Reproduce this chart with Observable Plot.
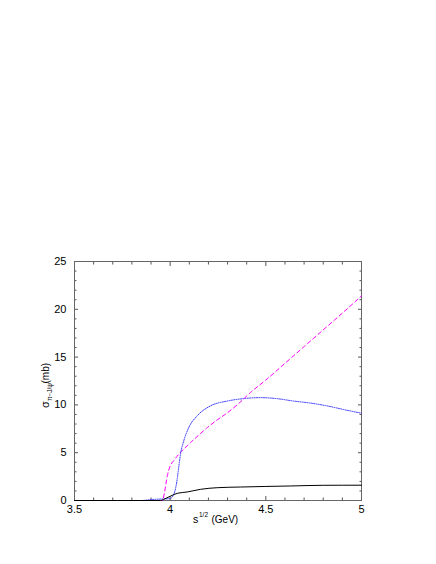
<!DOCTYPE html>
<html><head><meta charset="utf-8">
<script src="https://cdn.jsdelivr.net/npm/d3@7"></script>
<script src="https://cdn.jsdelivr.net/npm/@observablehq/plot@0.6"></script>
<style>body{margin:0;background:#fff}</style>
</head><body><div id="chart"></div>
<script>
// Magenta dashed curve
const magentaX = [3.5, 3.96, 3.97, 3.985, 4.0, 4.02, 4.045, 4.075, 4.106, 4.15, 4.194, 4.24, 4.289, 4.35, 4.42, 4.5, 4.6, 4.7, 4.8, 4.9, 5.0];
const magentaY = [0, 0, 0.8, 2.57, 3.6, 4.2, 4.84, 5.45, 6.05, 6.85, 7.62, 8.35, 9.03, 10.0, 11.3, 12.6, 14.35, 16.1, 17.85, 19.6, 21.4];
// Blue dotted curve
const blueX = [3.5, 3.85, 3.9, 3.95, 4.0, 4.015, 4.025, 4.035, 4.045, 4.054, 4.071, 4.097, 4.141, 4.211, 4.298, 4.38, 4.472, 4.56, 4.646, 4.73, 4.82, 4.91, 5.0];
const blueY = [0, 0, 0.1, 0.15, 0.2, 0.5, 1.0, 2.0, 3.5, 4.84, 6.23, 7.62, 8.85, 9.9, 10.4, 10.65, 10.76, 10.65, 10.4, 10.2, 9.9, 9.5, 9.13];
// Black solid curve
const blackX = [3.5, 3.95, 3.964, 3.98, 4.003, 4.037, 4.089, 4.159, 4.246, 4.368, 4.5, 4.63, 4.8, 5.0];
const blackY = [0, 0, 0.1, 0.25, 0.47, 0.75, 0.89, 1.17, 1.34, 1.41, 1.47, 1.52, 1.59, 1.6];

const xMajorTicks = [3.5, 4, 4.5, 5];
const xMinorTicks = [3.6, 3.7, 3.8, 3.9, 4.1, 4.2, 4.3, 4.4, 4.6, 4.7, 4.8, 4.9];
const yMajorTicks = [0, 5, 10, 15, 20, 25];
const yMinorTicks = [1, 2, 3, 4, 6, 7, 8, 9, 11, 12, 13, 14, 16, 17, 18, 19, 21, 22, 23, 24];

const toRows = (xs, ys) => xs.map((x, i) => ({x, y: ys[i]}));
const magenta = toRows(magentaX, magentaY);
const blue = toRows(blueX, blueY);
const black = toRows(blackX, blackY);

const tickColor = "#555";
const fmt = d => String(d);
const FONT = "'Liberation Sans', Arial, sans-serif";

const chart = Plot.plot({
  width: 436, height: 564,
  marginLeft: 74, marginRight: 75, marginTop: 261, marginBottom: 64,
  style: {fontFamily: FONT, fontSize: "11px", background: "#fff", color: "#000"},
  x: {domain: [3.5, 5], label: null},
  y: {domain: [0, 25], label: null},
  marks: [
    Plot.axisX(xMinorTicks, {anchor: "bottom", tickSize: -2.5, tickFormat: () => "", stroke: tickColor}),
    Plot.axisX(xMinorTicks, {anchor: "top", tickSize: -2.5, tickFormat: () => "", stroke: tickColor}),
    Plot.axisX(xMajorTicks, {anchor: "bottom", tickSize: -4, tickFormat: () => "", stroke: tickColor}),
    Plot.axisX(xMajorTicks, {anchor: "top", tickSize: -4, tickFormat: () => "", stroke: tickColor}),
    Plot.axisY(yMinorTicks, {anchor: "left", tickSize: -2.5, tickFormat: () => "", stroke: tickColor}),
    Plot.axisY(yMinorTicks, {anchor: "right", tickSize: -2.5, tickFormat: () => "", stroke: tickColor}),
    Plot.axisY(yMajorTicks, {anchor: "left", tickSize: -4, tickFormat: () => "", stroke: tickColor}),
    Plot.axisY(yMajorTicks, {anchor: "right", tickSize: -4, tickFormat: () => "", stroke: tickColor}),
    Plot.axisX(xMajorTicks, {anchor: "bottom", tickSize: 0, tickPadding: 5, tickFormat: fmt}),
    Plot.axisY(yMajorTicks, {anchor: "left", tickSize: 0, tickPadding: 8, tickFormat: fmt}),
    Plot.frame({stroke: "#666", strokeWidth: 1}),
    Plot.line(magenta, {x: "x", y: "y", stroke: "#ff00ff", strokeWidth: 1, strokeDasharray: "4,3", curve: "monotone-x"}),
    Plot.line(blue, {x: "x", y: "y", stroke: "#3333ff", strokeWidth: 1, strokeDasharray: "1,1.3", curve: "monotone-x"}),
    Plot.line(black, {x: "x", y: "y", stroke: "#000", strokeWidth: 1, curve: "monotone-x"})
  ]
});
document.getElementById("chart").appendChild(chart);

const svg = d3.select(chart);
// drop empty tick-label texts left by tick-only axes
svg.selectAll("text").filter(function() { return this.textContent.trim() === ""; }).remove();

// Axis titles (separate pieces for super/subscripts)
function addText(parent, x, y, size, str) {
  return parent.append("text").attr("x", x).attr("y", y)
    .attr("text-anchor", "start")
    .attr("font-family", FONT).attr("font-size", size).attr("fill", "#000").text(str);
}
addText(svg, 193, 523, 10.5, "s");
addText(svg, 199, 517, 6.5, "1/2");
addText(svg, 211.5, 523, 10, "(GeV)");

const yg = svg.append("g").attr("transform", "translate(49,408) rotate(-90)");
addText(yg, 0, 0, 11, "σ");
addText(yg, 7, 3, 6.5, "π−J/ψ");
addText(yg, 24.5, 0, 10, "(mb)");
</script>
</body></html>
